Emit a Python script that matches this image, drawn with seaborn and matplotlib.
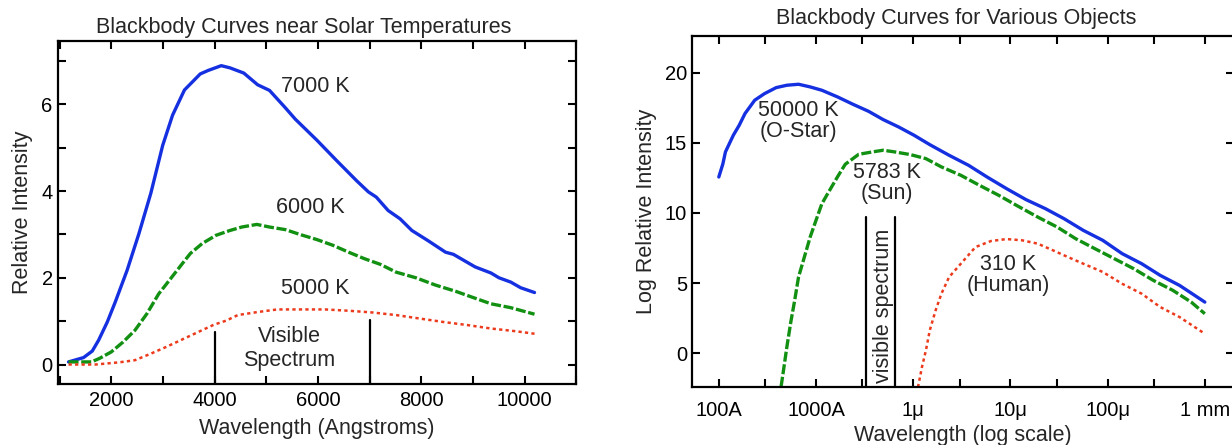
import numpy as np
import pandas as pd
import seaborn as sns
import matplotlib.pyplot as plt
from matplotlib.ticker import MultipleLocator, FixedLocator, NullFormatter

# Левый график: длина волны (Å) и относительная интенсивность
wl_7000 = [1173, 1464, 1632, 1755, 1923, 2077, 2306, 2536, 2766, 2995, 3187, 3417, 3723,
           3876, 4129, 4297, 4565, 4833, 5063, 5216, 5369, 5560, 5982, 6364, 6747, 6977,
           7130, 7360, 7590, 7819, 8126, 8470, 8623, 9044, 9350, 9504, 9734, 9925, 10193]
int_7000 = [0.06, 0.16, 0.31, 0.56, 0.98, 1.44, 2.17, 3.02, 3.95, 5.05, 5.75, 6.33, 6.70,
            6.78, 6.89, 6.84, 6.72, 6.45, 6.32, 6.12, 5.92, 5.66, 5.17, 4.70, 4.24, 3.98,
            3.86, 3.55, 3.36, 3.09, 2.86, 2.59, 2.54, 2.25, 2.11, 2.00, 1.90, 1.77, 1.66]

wl_6000 = [1173, 1617, 1770, 2000, 2230, 2459, 2689, 2919, 3149, 3378, 3531, 3761, 4029,
           4297, 4527, 4818, 5063, 5369, 5675, 5982, 6288, 6594, 6900, 7207, 7513, 7896,
           8279, 8662, 8968, 9350, 9734, 10193]
int_6000 = [0.06, 0.06, 0.14, 0.29, 0.52, 0.79, 1.17, 1.63, 1.98, 2.33, 2.56, 2.79, 2.98,
            3.09, 3.17, 3.23, 3.17, 3.11, 2.99, 2.88, 2.75, 2.59, 2.44, 2.31, 2.13, 2.00,
            1.83, 1.69, 1.56, 1.40, 1.31, 1.16]

wl_5000 = [1173, 1694, 2153, 2459, 2766, 3072, 3378, 3684, 3991, 4221, 4450, 4833, 5216,
           5675, 6135, 6594, 7054, 7513, 7972, 8432, 8891, 9350, 9810, 10193]
int_5000 = [0.0, 0.0, 0.05, 0.10, 0.25, 0.41, 0.58, 0.75, 0.92, 1.01, 1.14, 1.21, 1.27,
            1.27, 1.27, 1.24, 1.20, 1.14, 1.06, 0.98, 0.91, 0.83, 0.77, 0.71]

# Правый график: длина волны (Å), логарифм относительной интенсивности
wl_ostar = [100, 110, 117, 141, 162, 186, 234, 295, 389, 501, 661, 871, 1150, 1660, 2400,
            3470, 4900, 7080, 10200, 14800, 23400, 37200, 57500, 91200, 145000, 229000,
            355000, 562000, 891000, 1410000, 2240000, 3470000, 5500000, 10000000]
log_ostar = [12.57, 13.5, 14.36, 15.55, 16.26, 17.1, 18.05, 18.52, 18.95, 19.12, 19.19,
             19.0, 18.76, 18.29, 17.76, 17.26, 16.67, 16.14, 15.55, 14.88, 14.12, 13.40,
             12.57, 11.74, 10.95, 10.31, 9.60, 8.76, 8.05, 7.10, 6.38, 5.55, 4.83, 3.64]

wl_sun = [437, 468, 501, 550, 603, 661, 759, 871, 1000, 1150, 1380, 1660, 2000, 2750, 3800,
          4900, 6460, 9330, 13500, 19500, 30900, 47900, 75900, 120000, 191000, 302000,
          468000, 741000, 1170000, 1860000, 2950000, 4680000, 7240000, 10000000]
log_sun = [-2.4, -1.0, 0.43, 2.21, 3.76, 5.43, 6.86, 8.29, 9.48, 10.67, 11.62, 12.57,
           13.48, 14.19, 14.36, 14.48, 14.36, 14.17, 13.88, 13.29, 12.69, 11.98, 11.26,
           10.48, 9.71, 9.0, 8.17, 7.45, 6.74, 6.02, 5.19, 4.48, 3.64, 2.81]

wl_human = [11200, 12300, 13500, 14800, 17000, 19500, 23400, 30900, 43700, 63100, 91200,
            132000, 191000, 275000, 389000, 562000, 891000, 1410000, 2240000, 3470000,
            5500000, 10000000]
log_human = [-2.43, -1.0, 0.19, 1.62, 3.05, 4.24, 5.43, 6.38, 7.57, 8.0, 8.14, 8.05, 7.81,
             7.33, 6.86, 6.38, 5.79, 4.95, 4.24, 3.29, 2.57, 1.38]

right_ticks = [100, 1000, 1e4, 1e5, 1e6, 1e7]
right_labels = ['100A', '1000A', '1μ', '10μ', '100μ', '1 mm']

sns.set_style('ticks')
plt.rcParams['font.family'] = ['Liberation Sans', 'DejaVu Sans']
plt.rcParams['axes.linewidth'] = 1.6

blue = '#1530e0'
green = '#129012'
red = '#ec3a1c'
fs_lab = 15.5
fs_tick = 14.5
fs_title = 15.5

fig = plt.figure(figsize=(12.32, 4.45), dpi=100)
ax1 = fig.add_axes([0.0467, 0.137, 0.421, 0.770])
ax2 = fig.add_axes([0.5617, 0.131, 0.44, 0.787])

# --- левый график ---
sns.lineplot(x=wl_7000, y=int_7000, ax=ax1, color=blue, lw=2.4)
sns.lineplot(x=wl_6000, y=int_6000, ax=ax1, color=green, lw=2.4, linestyle=(0, (3, 0.8)))
sns.lineplot(x=wl_5000, y=int_5000, ax=ax1, color=red, lw=1.8, linestyle=(0, (1.3, 1.3)))

ax1.plot([4000, 4000], [-0.45, 0.75], color='black', lw=1.6)
ax1.plot([7000, 7000], [-0.45, 1.02], color='black', lw=1.6)
ax1.text(5450, 0.37, 'Visible\nSpectrum', ha='center', va='center', fontsize=fs_lab, linespacing=1.15)
ax1.text(5950, 6.41, '7000 K', ha='center', va='center', fontsize=fs_lab)
ax1.text(5850, 3.61, '6000 K', ha='center', va='center', fontsize=fs_lab)
ax1.text(5950, 1.75, '5000 K', ha='center', va='center', fontsize=fs_lab)

ax1.set_xlim(960, 11000)
ax1.set_ylim(-0.45, 7.45)
ax1.xaxis.set_major_locator(FixedLocator([2000, 4000, 6000, 8000, 10000]))
ax1.xaxis.set_minor_locator(MultipleLocator(1000))
ax1.yaxis.set_major_locator(FixedLocator([0, 2, 4, 6]))
ax1.yaxis.set_minor_locator(MultipleLocator(1))
ax1.set_title('Blackbody Curves near Solar Temperatures', fontsize=fs_title, pad=6, x=0.475)
ax1.set_xlabel('Wavelength (Angstroms)', fontsize=fs_lab, labelpad=6)
ax1.set_ylabel('Relative Intensity', fontsize=fs_lab, labelpad=6)

# --- правый график ---
sns.lineplot(x=wl_ostar, y=log_ostar, ax=ax2, color=blue, lw=2.4)
sns.lineplot(x=wl_sun, y=log_sun, ax=ax2, color=green, lw=2.4, linestyle=(0, (3, 0.8)))
sns.lineplot(x=wl_human, y=log_human, ax=ax2, color=red, lw=1.8, linestyle=(0, (1.3, 1.3)))
ax2.set_xscale('log')

ax2.plot([3250, 3250], [-2.4, 9.7], color='black', lw=1.6)
ax2.plot([6450, 6450], [-2.4, 9.7], color='black', lw=1.6)
ax2.text(4900, 3.4, 'visible spectrum', rotation=90, ha='center', va='center', fontsize=fs_lab)
ax2.text(660, 16.55, '50000 K\n(O-Star)', ha='center', va='center', fontsize=fs_lab, linespacing=1.0)
ax2.text(5400, 12.14, '5783 K\n(Sun)', ha='center', va='center', fontsize=fs_lab, linespacing=1.0)
ax2.text(95000, 5.55, '310 K\n(Human)', ha='center', va='center', fontsize=fs_lab, linespacing=1.0)

ax2.set_xlim(53, 2e7)
ax2.set_ylim(-2.4, 22.6)
ax2.xaxis.set_major_locator(FixedLocator(right_ticks))
ax2.set_xticklabels(right_labels)
ax2.xaxis.set_minor_locator(FixedLocator([300, 3000, 3e4, 3e5, 3e6]))
ax2.xaxis.set_minor_formatter(NullFormatter())
ax2.yaxis.set_major_locator(FixedLocator([0, 5, 10, 15, 20]))
ax2.yaxis.set_minor_locator(FixedLocator([]))
ax2.set_title('Blackbody Curves for Various Objects', fontsize=fs_title, pad=9, x=0.488)
ax2.set_xlabel('Wavelength (log scale)', fontsize=fs_lab, labelpad=4)
ax2.set_ylabel('Log Relative Intensity', fontsize=fs_lab, labelpad=6)

for ax in (ax1, ax2):
    ax.tick_params(which='both', direction='in', top=True, right=True, length=6, width=1.5,
                   labelsize=fs_tick, color='black', labelcolor='black')
    for s in ax.spines.values():
        s.set_color('black')
ax1.tick_params(axis='x', which='both', pad=5)
ax2.tick_params(axis='x', which='both', pad=10)

fig.savefig('out.png', dpi=100)
